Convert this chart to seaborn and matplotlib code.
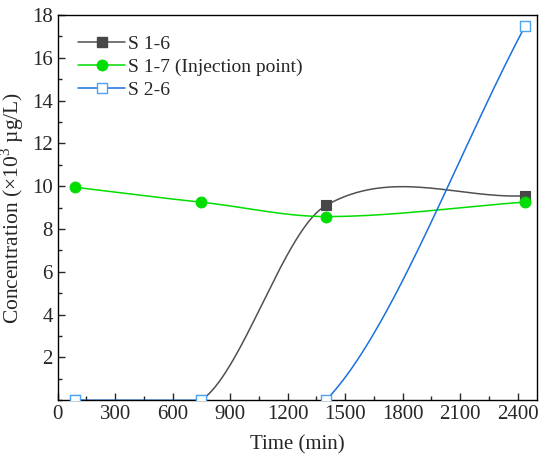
import matplotlib
matplotlib.use("Agg")
import matplotlib.pyplot as plt
import seaborn as sns
import numpy as np
import pandas as pd
from matplotlib.lines import Line2D
from matplotlib.ticker import MultipleLocator

# sampling times (min) and concentrations (x10^3 ug/L)
time_min = [90, 750, 1400, 2440]
s16 = [0.0, 0.0, 9.1, 9.55]
s17 = [9.95, 9.25, 8.58, 9.26]
s26 = [0.0, 0.0, 0.0, 17.5]

series_names = ["S 1-6", "S 1-7 (Injection point)", "S 2-6"]
line_colors = ["#505050", "#00dd00", "#1a70e0"]


def smooth(x, y, n=80, tension=0.9):
    # cubic hermite through the points (catmull-rom style tangents)
    x = np.asarray(x, float)
    y = np.asarray(y, float)
    m = np.zeros_like(y)
    m[0] = (y[1] - y[0]) / (x[1] - x[0])
    m[-1] = (y[-1] - y[-2]) / (x[-1] - x[-2])
    for i in range(1, len(x) - 1):
        m[i] = tension * (y[i + 1] - y[i - 1]) / (x[i + 1] - x[i - 1])
    xs, ys = [], []
    for i in range(len(x) - 1):
        h = x[i + 1] - x[i]
        t = np.linspace(0, 1, n)
        h00 = 2 * t**3 - 3 * t**2 + 1
        h10 = t**3 - 2 * t**2 + t
        h01 = -2 * t**3 + 3 * t**2
        h11 = t**3 - t**2
        xs.append(x[i] + t * h)
        ys.append(h00 * y[i] + h10 * h * m[i] + h01 * y[i + 1] + h11 * h * m[i + 1])
    return np.concatenate(xs), np.concatenate(ys)


sns.set_theme(style="ticks")
plt.rcParams["font.family"] = ["Liberation Serif", "DejaVu Serif"]
plt.rcParams["mathtext.fontset"] = "custom"
plt.rcParams["mathtext.rm"] = "Liberation Serif"

fig, ax = plt.subplots(figsize=(5.5, 4.67), dpi=100)
fig.subplots_adjust(left=0.105, right=0.976, bottom=0.143, top=0.968)

marker_kw = [
    dict(marker="s", s=45, color="#474747", edgecolor="#474747", linewidth=0.8),
    dict(marker="o", s=60, color="#00dd00", edgecolor="#00dd00", linewidth=0.8),
    dict(marker="s", s=45, color="white", edgecolor="#4aa3f5", linewidth=1.0),
]

for vals, col, mk in zip([s16, s17, s26], line_colors, marker_kw):
    cx, cy = smooth(time_min, vals)
    sns.lineplot(x=cx, y=cy, ax=ax, color=col, linewidth=1.1, sort=False,
                 estimator=None)
    df = pd.DataFrame({"t": time_min, "c": vals})
    sns.scatterplot(data=df, x="t", y="c", ax=ax, zorder=3, **mk)

ax.set_xlim(0, 2500)
ax.set_ylim(0, 18)
ax.xaxis.set_major_locator(MultipleLocator(300))
ax.xaxis.set_minor_locator(MultipleLocator(150))
ax.set_yticks(np.arange(2, 19, 2))
ax.yaxis.set_minor_locator(MultipleLocator(1))
ax.tick_params(which="both", direction="in", labelsize=15)
ax.tick_params(which="major", length=5, width=1)
ax.tick_params(which="minor", length=3, width=1)
for sp in ax.spines.values():
    sp.set_linewidth(1.0)
    sp.set_color("black")

ax.set_xlabel("Time (min)", fontsize=15, labelpad=8)
ax.set_ylabel("Concentration (×10$^{3}$ µg/L)", fontsize=15.5, labelpad=4)

handles = [
    Line2D([], [], color=line_colors[0], lw=1.1, marker="s", markersize=6.5,
           markerfacecolor="#474747", markeredgecolor="#474747"),
    Line2D([], [], color=line_colors[1], lw=1.1, marker="o", markersize=7.5,
           markerfacecolor="#00dd00", markeredgecolor="#00dd00"),
    Line2D([], [], color=line_colors[2], lw=1.1, marker="s", markersize=6.5,
           markerfacecolor="white", markeredgecolor="#4aa3f5"),
]
ax.legend(handles, series_names, loc="upper left", frameon=False, fontsize=14,
          handlelength=2.4, handletextpad=0.15, labelspacing=0.28,
          borderaxespad=0.6, borderpad=0.45)

fig.savefig("out.png", dpi=100)
